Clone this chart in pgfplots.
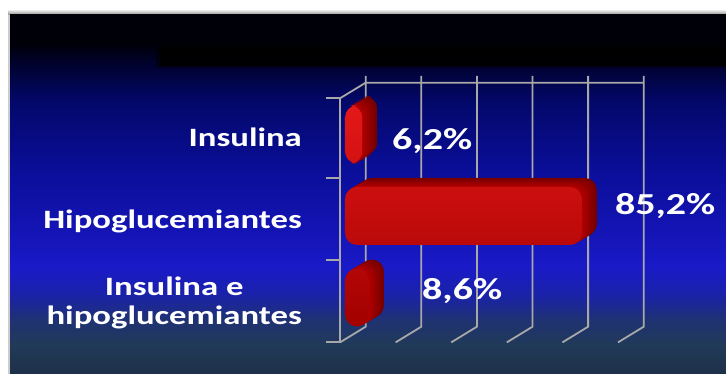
\documentclass[border=0pt]{standalone}
\usepackage{fontspec}
\setmainfont{Carlito}
\usepackage{graphicx}
\usepackage{pgfplots}
\pgfplotsset{compat=1.18}
\usepackage{pgfplotstable}

% bar colours
\definecolor{barhi}{HTML}{E41818}
\definecolor{barmid}{HTML}{CE0000}
\definecolor{barlo}{HTML}{A20000}
\definecolor{bardark}{HTML}{6E0000}
\definecolor{barside}{HTML}{B40000}
\definecolor{gridgray}{HTML}{A8A8A8}

% background stops (bottom to top); the fitted path covers 25bp..75bp
\definecolor{pA}{HTML}{1E3048}
\definecolor{pB}{HTML}{203A58}
\definecolor{pC}{HTML}{1F3272}
\definecolor{pD}{HTML}{1A22A8}
\definecolor{pE}{HTML}{1A1AC8}
\definecolor{pF}{HTML}{1515B8}
\definecolor{pG}{HTML}{0A0E98}
\definecolor{pH}{HTML}{03086A}
\definecolor{pI}{HTML}{00022A}
\definecolor{pJ}{HTML}{000008}
\pgfdeclareverticalshading{panel}{100bp}{%
  color(0bp)=(pA); color(25bp)=(pA); color(29bp)=(pB); color(32.5bp)=(pC);
  color(36bp)=(pD); color(40bp)=(pE); color(44bp)=(pF); color(53.5bp)=(pG);
  color(63bp)=(pH); color(68.5bp)=(pI); color(71bp)=(pJ); color(75bp)=(pJ);
  color(100bp)=(pJ)}

\newcommand\cat[1]{{\fontsize{26.5pt}{29pt}\selectfont\bfseries\scalebox{1.31}[1]{#1}}}
\newcommand\val[1]{{\fontsize{30.5pt}{36pt}\selectfont\bfseries\scalebox{1.31}[1]{#1}}}

\pgfplotstableread{
cat value
2   6.2
1   85.2
0   8.6
}\bardata

\begin{document}
\begin{tikzpicture}
% slide background
\fill[white] (0pt,0pt) rectangle (726pt,374pt);
\shade[top color=white, bottom color=black!45] (8pt,359pt) rectangle (726pt,365pt);
\fill[black!20] (8pt,0pt) rectangle (10pt,359pt);
\shade[shading=panel] (10pt,0pt) rectangle (726pt,359pt);
% faded title strip
\fill[black, opacity=0.5] (156pt,306pt) rectangle (726pt,329pt);
\fill[black, opacity=0.85] (160pt,308pt) rectangle (726pt,327pt);

% walls of the 3D chart
\begin{scope}[gridgray, line width=1.8pt]
  \foreach \k in {0,...,5} {
    \pgfmathsetmacro\xk{365.7+55.6*\k}
    \draw (\xk pt,298pt) -- (\xk pt,47.3pt) -- ++(-25.7pt,-15.7pt);
  }
  \draw (340pt,275.7pt) -- (365.7pt,291.3pt) -- (643.7pt,291.3pt);
  \draw (340pt,32.3pt) -- (340pt,275.7pt);
  \foreach \y in {32.3,114,195.7,275.7} \draw (326pt,\y pt) -- (340pt,\y pt);
\end{scope}

\begin{axis}[
  at={(345pt,76.5pt)}, anchor=origin,
  x=2.78pt, y=81.5pt,
  xmin=-1.8, xmax=100, ymin=-0.542, ymax=2.444,
  clip=false,
  axis line style={draw=none},
  major tick length=0pt,
  xtick=\empty,
  ytick={0,1,2},
  yticklabels={{\cat{\begin{tabular}{@{}c@{}}Insulina e\\hipoglucemiantes\end{tabular}}},{\cat{Hipoglucemiantes}},{\cat{Insulina}}},
  yticklabel style={anchor=base east, inner sep=0pt, xshift=-38pt, yshift=-12.5pt, text=white},
]
% depth of the bars, drawn back to front
\pgfplotsinvokeforeach{15,14,13,12,11,10,9,8,7,6,5,4,3,2,1}{
  \addplot[xbar, bar shift=0pt, bar width=58pt, draw=none,
    fill=bardark!\the\numexpr #1*6\relax!barside,
    rounded corners=12pt, xshift=#1*1pt, yshift=#1*0.6pt]
    table[x=value, y=cat]{\bardata};
}
% front faces
\addplot[xbar, bar shift=0pt, bar width=58pt, draw=none, rounded corners=12pt,
  top color=barhi, middle color=barmid, bottom color=barlo]
  table[x=value, y=cat]{\bardata};

\node[anchor=base west, inner sep=0pt, text=white, xshift=29.8pt, yshift=-15.5pt] at (axis cs:6.2,2) {\val{6,2\%}};
\node[anchor=base west, inner sep=0pt, text=white, xshift=33.1pt, yshift=1pt] at (axis cs:85.2,1) {\val{85,2\%}};
\node[anchor=base west, inner sep=0pt, text=white, xshift=53.1pt, yshift=-2.5pt] at (axis cs:8.6,0) {\val{8,6\%}};
\end{axis}
\end{tikzpicture}
\end{document}
